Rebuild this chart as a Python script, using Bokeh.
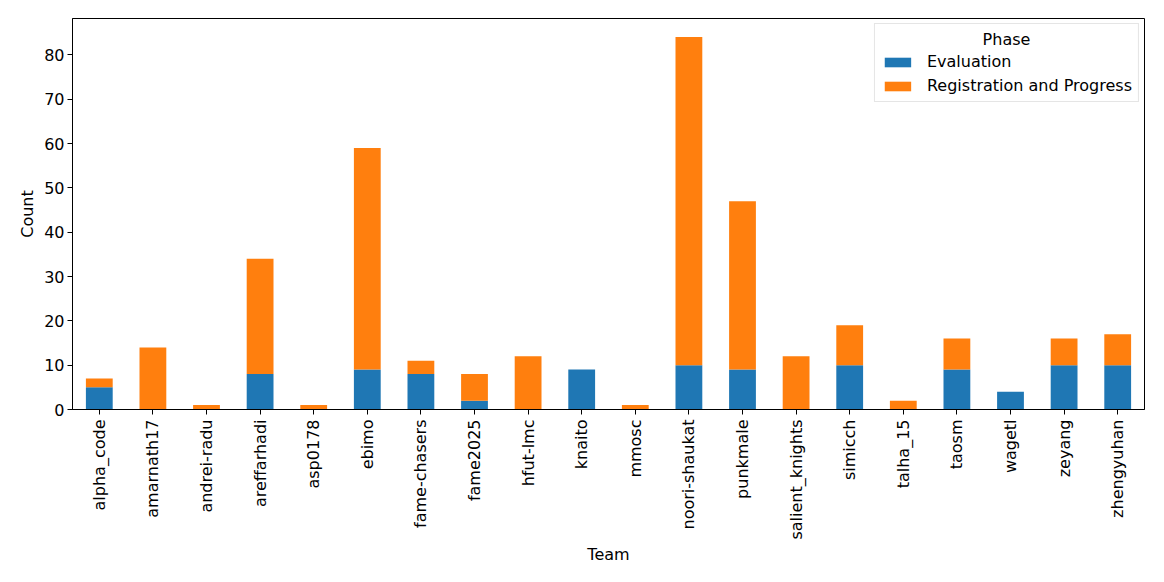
from bokeh.plotting import figure
from bokeh.models import FactorRange, Range1d, FixedTicker, Legend, LegendItem, Label
from bokeh.embed import file_html
from bokeh.resources import INLINE

teams = ["alpha_code", "amarnath17", "andrei-radu", "areffarhadi", "asp0178", "ebimo",
         "fame-chasers", "fame2025", "hfut-lmc", "knaito", "mmosc", "noori-shaukat",
         "punkmale", "salient_knights", "simicch", "talha_15", "taosm", "wagetl",
         "zeyang", "zhengyuhan"]
evaluation = [5, 0, 0, 8, 0, 9, 8, 2, 0, 9, 0, 10, 9, 0, 10, 0, 9, 4, 10, 10]
registration = [2, 14, 1, 26, 1, 50, 3, 6, 12, 0, 1, 74, 38, 12, 9, 2, 7, 0, 6, 7]
y_ticks = [0, 10, 20, 30, 40, 50, 60, 70, 80]

FONT = "DejaVu Sans"
FS = "16px"

p = figure(x_range=FactorRange(factors=teams, range_padding=0.0),
           y_range=Range1d(0, 88.2),
           frame_width=1072, frame_height=391,
           output_backend="svg", toolbar_location=None,
           min_border_left=72, min_border_top=18, min_border_right=12, min_border_bottom=157)
p.width = 1156
p.height = 566

src = dict(team=teams, Evaluation=evaluation, Registration=registration)
rs = p.vbar_stack(["Evaluation", "Registration"], x="team", width=0.5,
                  color=["#1f77b4", "#ff7f0e"], line_color=None, source=src)

p.xgrid.visible = False
p.ygrid.visible = False
p.outline_line_color = "black"
p.outline_line_width = 1

p.yaxis.ticker = FixedTicker(ticks=y_ticks)
for ax in (p.xaxis[0], p.yaxis[0]):
    ax.axis_line_color = "black"
    ax.major_tick_line_color = "black"
    ax.major_tick_out = 5
    ax.major_tick_in = 0
    ax.minor_tick_line_color = None
    ax.major_label_text_font = FONT
    ax.major_label_text_font_size = FS
    ax.major_label_text_color = "black"
    ax.axis_label_text_font = FONT
    ax.axis_label_text_font_size = FS
    ax.axis_label_text_font_style = "normal"
    ax.axis_label_text_color = "black"
p.xaxis.major_label_orientation = 1.5707963
p.xaxis.axis_label = "Team"
p.yaxis.axis_label = "Count"
p.xaxis.major_label_standoff = 5
p.xaxis.axis_label_standoff = 2
p.yaxis.major_label_standoff = 3
p.yaxis.axis_label_standoff = 4

legend = Legend(items=[LegendItem(label="Evaluation", renderers=[rs[0]]),
                       LegendItem(label="Registration and Progress", renderers=[rs[1]])],
                location="top_right", title=" ",
                title_text_font=FONT, title_text_font_size=FS,
                label_text_font=FONT, label_text_font_size=FS, label_text_color="black",
                glyph_width=33, glyph_height=12, spacing=5, padding=6, margin=5,
                label_standoff=13, border_line_color="#cccccc", border_line_width=1,
                background_fill_alpha=0, title_standoff=3)
p.add_layout(legend)

title_lbl = Label(x=934, y=370, x_units="screen", y_units="screen",
                  text="Phase", text_font=FONT, text_font_size=FS, text_align="center",
                  text_baseline="middle", text_color="black", level="overlay")
p.add_layout(title_lbl)

open("out.html", "w").write(file_html(p, INLINE))
